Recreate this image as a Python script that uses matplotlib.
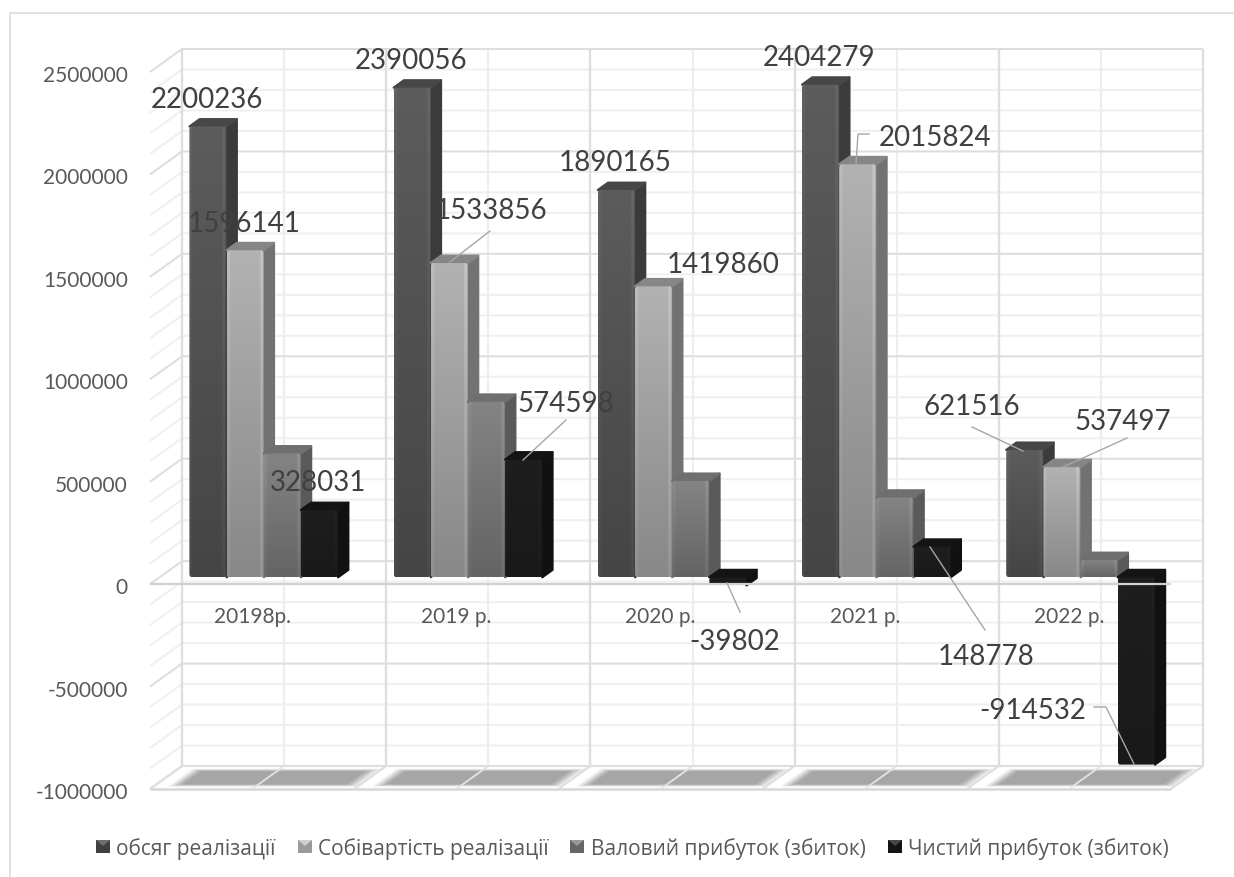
import numpy as np
import matplotlib
matplotlib.use("Agg")
import matplotlib.pyplot as plt
from matplotlib.lines import Line2D
from matplotlib.patches import Polygon, Rectangle
from matplotlib.transforms import ScaledTranslation

plt.rcParams['font.family'] = ['Lato', 'Open Sans', 'DejaVu Sans']

years = ['20198р.', '2019 р.', '2020 р.', '2021 р.', '2022 р.']
series_names = ['обсяг реалізації', 'Собівартість реалізації',
                'Валовий прибуток (збиток)', 'Чистий прибуток (збиток)']
sales = [2200236, 2390056, 1890165, 2404279, 621516]
cost = [1596141, 1533856, 1419860, 2015824, 537497]
gross = [604095, 856200, 470305, 388455, 84019]
net = [328031, 574598, -39802, 148778, -914532]
y_ticks = [-1000000, -500000, 0, 500000, 1000000, 1500000, 2000000, 2500000]

W, H = 1234, 877
LEFT, RIGHT, TOP, BOTTOM = 150, 1171, 72, 789
Y_MIN, Y_MAX = -1000000, 2500000

# oblique depth of the box, in data units
DX = 32 / ((RIGHT - LEFT) / 5)
DY = 23 / ((BOTTOM - TOP) / (Y_MAX - Y_MIN))
BAR_D0, BAR_D1 = 0.30, 0.62
BAR_W = 0.182
BAR_START = 0.146

# face colours: front top, front bottom, side, top
colors = [
    ('#5c5c5c', '#454545', '#3b3b3b', '#474747'),
    ('#b2b2b2', '#888888', '#727272', '#868686'),
    ('#848484', '#646464', '#5a5a5a', '#6f6f6f'),
    ('#1e1e1e', '#191919', '#111111', '#141414'),
]
# legend keys: body, lit upper bevel
legend_colors = [('#404040', '#6e6e6e'), ('#9a9a9a', '#cfcfcf'),
                 ('#666666', '#999999'), ('#141414', '#484848')]


def shift(x, y, d):
    return x + d * DX, y + d * DY


def px(x, y):
    return x / W, 1 - y / H


def hex_rgb(c):
    return np.array(matplotlib.colors.to_rgb(c))


def wall_line(ax, pts, color, lw, zorder=1):
    xs, ys = zip(*pts)
    ax.plot(xs, ys, color=color, lw=lw, zorder=zorder, clip_on=False,
            solid_capstyle='butt')


def draw_box(ax):
    x_front, x_back = 0, 5
    # minor, then major, so that the darker lines stay on top
    for v in range(Y_MIN, Y_MAX + 1, 100000):
        if v % 500000 == 0:
            continue
        a = shift(x_front, v, 0)
        b = shift(x_front, v, 1)
        c = shift(x_back, v, 1)
        wall_line(ax, [a, b, c], '#f0f0f0', 1.5)
    for i in range(5):
        top = shift(i + 0.5, Y_MAX, 1)
        bot = shift(i + 0.5, Y_MIN, 1)
        wall_line(ax, [top, bot], '#eeeeee', 1.6)
    for i in range(6):
        top = shift(i, Y_MAX, 1)
        bot = shift(i, Y_MIN, 1)
        wall_line(ax, [top, bot], '#dedede', 1.7)
    for v in y_ticks:
        a = shift(x_front, v, 0)
        b = shift(x_front, v, 1)
        c = shift(x_back, v, 1)
        wall_line(ax, [a, b, c], '#dedede', 1.5)

    # floor with the soft grey shadow under every group
    for i in range(5):
        for step, alpha in enumerate([0.15, 0.2, 0.3, 0.4, 0.6, 1.0]):
            x0, x1 = i + 0.07 + step * 0.012, i + 1.0 - step * 0.014
            d0, d1 = 0.10 + step * 0.022, 0.88 - step * 0.022
            pts = [shift(x0, Y_MIN, d0), shift(x1, Y_MIN, d0),
                   shift(x1, Y_MIN, d1), shift(x0, Y_MIN, d1)]
            ax.add_patch(Polygon(pts, closed=True, fc='#a6a6a6', ec='none',
                                 alpha=alpha, zorder=1.2, clip_on=False))
    for i in range(5):
        wall_line(ax, [shift(i + 0.5, Y_MIN, 0), shift(i + 0.5, Y_MIN, 1)], '#e4e4e4', 1.3, 1.3)
    for i in range(6):
        wall_line(ax, [shift(i, Y_MIN, 0), shift(i, Y_MIN, 1)], '#dedede', 1.5, 1.3)
    wall_line(ax, [shift(0, Y_MIN, 0), shift(5, Y_MIN, 0)], '#dadada', 2.0, 1.3)


def draw_bar(ax, x, value, palette, zorder):
    top_c, bot_c, side_c, cap_c = palette
    hi = max(value, 0)
    lo = min(value, 0)
    x1 = x + BAR_W

    side = [shift(x1, lo, BAR_D0), shift(x1, lo, BAR_D1),
            shift(x1, hi, BAR_D1), shift(x1, hi, BAR_D0)]
    cap = [shift(x, hi, BAR_D0), shift(x1, hi, BAR_D0),
           shift(x1, hi, BAR_D1), shift(x, hi, BAR_D1)]
    ax.add_patch(Polygon(side, closed=True, fc=side_c, ec=side_c, lw=1.6,
                         joinstyle='round', zorder=zorder, clip_on=False))
    ax.add_patch(Polygon(cap, closed=True, fc=cap_c, ec=cap_c, lw=1.6,
                         joinstyle='round', zorder=zorder, clip_on=False))

    # front face: vertical gradient with lighter bevels on both edges
    rows = np.linspace(0, 1, 64)[:, None, None]
    grad = hex_rgb(top_c)[None, None, :] * (1 - rows) + hex_rgb(bot_c)[None, None, :] * rows
    profile = np.ones(24)
    profile[:2] = 1.06
    profile[-3:] = 1.10
    profile[-1] = 0.88
    img = np.clip(grad * profile[None, :, None], 0, 1)
    fx0, fy0 = shift(x, lo, BAR_D0)
    fx1, fy1 = shift(x1, hi, BAR_D0)
    im = ax.imshow(img, extent=(fx0, fx1, fy0, fy1), origin='upper', aspect='auto',
                   zorder=zorder + 0.1, interpolation='bilinear', clip_on=True)
    cx = 0.008
    cy = 10000
    clip = Polygon([(fx0 + cx, fy0), (fx1 - cx, fy0), (fx1, fy0 + cy), (fx1, fy1 - cy),
                    (fx1 - cx, fy1), (fx0 + cx, fy1), (fx0, fy1 - cy), (fx0, fy0 + cy)],
                   closed=True, transform=ax.transData)
    im.set_clip_path(clip)


fig = plt.figure(figsize=(W / 100, H / 100), dpi=100, facecolor='white')
ax = fig.add_axes([LEFT / W, 1 - BOTTOM / H, (RIGHT - LEFT) / W, (BOTTOM - TOP) / H])
ax.patch.set_visible(False)

draw_box(ax)

all_series = [sales, cost, gross, net]
for i in range(len(years)):
    for j, values in enumerate(all_series):
        draw_bar(ax, i + BAR_START + j * BAR_W, values[i], colors[j], 3 + i + j * 0.2)

# zero line of the front plane runs across the bars
wall_line(ax, [shift(0, 0, 0), shift(5, 0, 0)], '#d0d0d0', 1.6, 9)

ax.set_xlim(0, 5)
ax.set_ylim(Y_MIN, Y_MAX)
ax.set_yticks(y_ticks)
ax.set_yticklabels([str(v) for v in y_ticks])
ax.set_xticks([i + 0.5 for i in range(len(years))])
ax.set_xticklabels(years)
for s in ['top', 'right', 'left']:
    ax.spines[s].set_visible(False)
ax.spines['bottom'].set_position(('data', 0))
ax.spines['bottom'].set_visible(False)
ax.tick_params(axis='y', length=0, pad=16, labelsize=15, labelcolor='#595959')
ax.tick_params(axis='x', length=0, pad=16.5, labelsize=15, labelcolor='#595959')
nudge = ScaledTranslation(0, -2 / 100, fig.dpi_scale_trans)
for lab in ax.get_yticklabels():
    lab.set_transform(lab.get_transform() + nudge)

# data labels, placed by hand around the bars
label_values = [sales[0], cost[0], net[0], sales[1], cost[1], net[1],
                sales[2], cost[2], net[2], sales[3], cost[3], net[3],
                sales[4], cost[4], net[4]]
label_xy = [(207, 100), (244, 224), (318, 483), (411, 61), (491, 211), (566, 404),
            (615, 163), (723, 265), (735, 642), (819, 58), (935, 138), (986, 657),
            (972, 407), (1123, 422), (1033, 711)]
for v, (lx, ly) in zip(label_values, label_xy):
    tx, ty = px(lx, ly)
    fig.text(tx, ty, str(v), ha='center', va='center', fontsize=20, color='#404040', zorder=5)

leaders = [
    [(490, 231), (450, 262)],
    [(566, 420), (523, 460)],
    [(740, 612), (727, 583)],
    [(869, 134), (858, 134), (856, 164)],
    [(930, 547), (985, 630)],
    [(972, 427), (1023, 451)],
    [(1127, 438), (1063, 467)],
    [(1094, 707), (1106, 707), (1134, 764)],
]
for pts in leaders:
    xs, ys = zip(*[px(*p) for p in pts])
    fig.add_artist(Line2D(xs, ys, color='#a6a6a6', lw=1.0, transform=fig.transFigure, zorder=4))

# chart frame runs off the right and bottom edges
fx, fy = zip(*[px(10, H), px(10, 13), px(W, 13)])
fig.add_artist(Line2D(fx, fy, color='#d9d9d9', lw=1.1, transform=fig.transFigure))

# legend keys and names sit on one row with uneven gaps
key_x = [96, 298, 570, 888]
text_x = [116, 318, 591, 908]
for name, (body, lit), kx, tx in zip(series_names, legend_colors, key_x, text_x):
    x0, y0 = px(kx, 853)
    fig.add_artist(Rectangle((x0, y0), 14 / W, 13 / H, transform=fig.transFigure,
                             fc=body, ec='none'))
    fig.add_artist(Polygon([px(kx, 840), px(kx + 14, 840), px(kx + 7, 846)], closed=True,
                           transform=fig.transFigure, fc=lit, ec='none'))
    x1, y1 = px(tx, 849)
    fig.text(x1, y1, name, ha='left', va='center', fontsize=15,
             family=['Open Sans', 'DejaVu Sans'], color='#595959')

fig.savefig('out.png', dpi=100)
